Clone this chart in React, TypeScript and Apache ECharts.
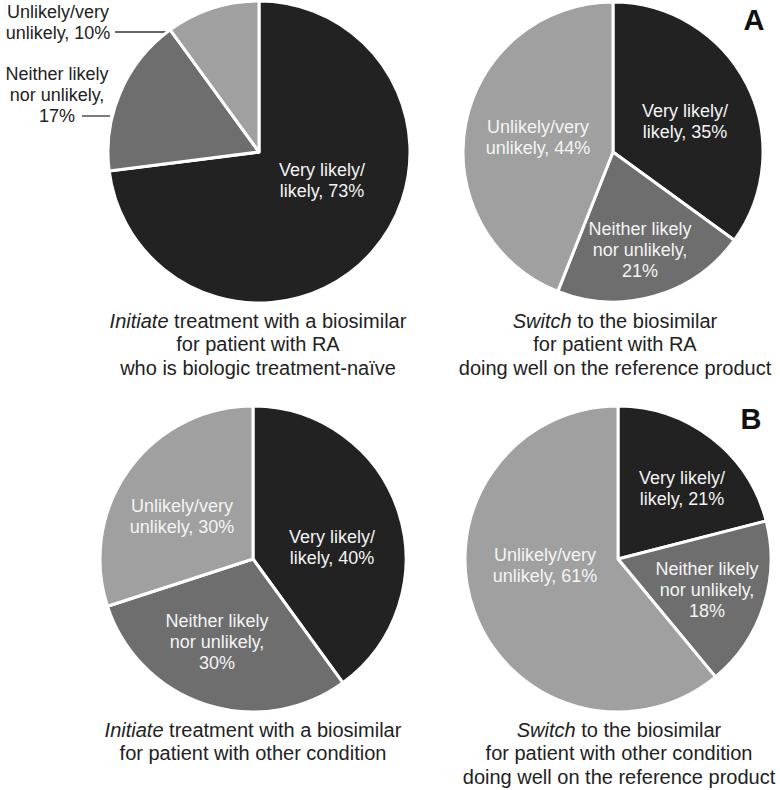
import React, { useEffect, useRef } from "react";
import * as echarts from "echarts";

const categories = ["Very likely/likely", "Neither likely nor unlikely", "Unlikely/very unlikely"];
const labelPrefixes = ["Very likely/\nlikely, ", "Neither likely\nnor unlikely,\n", "Unlikely/very\nunlikely, "];
const initiateRA = [73, 17, 10];
const switchRA = [35, 21, 44];
const initiateOther = [40, 30, 30];
const switchOther = [21, 18, 61];
const panelLetters = ["A", "B"];
const captionsTL = ["treatment with a biosimilar", "for patient with RA", "who is biologic treatment-naïve"];
const captionsTR = ["to the biosimilar", "for patient with RA", "doing well on the reference product"];
const captionsBL = ["treatment with a biosimilar", "for patient with other condition"];
const captionsBR = ["to the biosimilar", "for patient with other condition", "doing well on the reference product"];
const italicWords = ["Initiate", "Switch", "Initiate", "Switch"];

const COLORS = ["#222222", "#6e6e6e", "#a0a0a0"];
const FONT = "'Liberation Sans', Arial, Helvetica, sans-serif";

export default function App() {
  const ref = useRef<HTMLDivElement>(null);
  useEffect(() => {
    if (!ref.current) return;
    const chart = echarts.init(ref.current, undefined, { renderer: "svg" });
    const pies = [
      { values: initiateRA, center: [259, 152], r: 151 },
      { values: switchRA, center: [613, 152], r: 150 },
      { values: initiateOther, center: [253, 559], r: 153 },
      { values: switchOther, center: [618, 559], r: 153 },
    ];
    const labelPos = [
      [[322, 180], [57, 95], [58, 22]],
      [[685, 121], [640, 250], [538, 137]],
      [[332, 547], [217, 642], [182, 516]],
      [[682, 488], [707, 590], [545, 565]],
    ];
    const series = pies.map((p, si) => ({
      type: "pie",
      center: p.center,
      radius: [0, p.r],
      startAngle: 90,
      clockwise: true,
      silent: true,
      data: categories.map((c, i) => ({
        name: c,
        value: p.values[i],
        itemStyle: { color: COLORS[i] },
        label: si === 0 && i > 0 ? { color: "#222222" } : {},
      })),
      itemStyle: { borderColor: "#ffffff", borderWidth: 3 },
      label: {
        show: true,
        position: "inside",
        color: "#f4f4f4",
        fontFamily: FONT,
        fontSize: 18,
        lineHeight: 21,
        align: "center",
        formatter: (params: any) => labelPrefixes[params.dataIndex] + params.value + "%",
      },
      labelLine: { show: false },
      labelLayout: (params: any) => {
        const pos = labelPos[params.seriesIndex][params.dataIndex];
        return { x: pos[0], y: pos[1], align: "center", verticalAlign: "middle" };
      },
      emphasis: { disabled: true },
    }));

    const captionBlocks = [
      { lines: captionsTL, x: 258, y0: 321 },
      { lines: captionsTR, x: 615, y0: 321 },
      { lines: captionsBL, x: 253, y0: 730 },
      { lines: captionsBR, x: 619, y0: 730 },
    ];
    const graphics: any[] = [];
    captionBlocks.forEach((b, bi) => {
      b.lines.forEach((line, li) => {
        graphics.push({
          type: "text",
          x: b.x,
          y: b.y0 + li * 23.3,
          style: {
            text: li === 0 ? "{i|" + italicWords[bi] + "} " + line : line,
            rich: { i: { fontStyle: "italic", fontSize: 20, fontFamily: FONT, fill: "#222222" } },
            fontSize: 20,
            fontFamily: FONT,
            fill: "#222222",
            textAlign: "center",
            textVerticalAlign: "middle",
          },
        });
      });
    });
    graphics.push(
      { type: "text", x: 754, y: 20, style: { text: panelLetters[0], fontSize: 29, fontWeight: "bold", fontFamily: FONT, fill: "#111111", textAlign: "center", textVerticalAlign: "middle" } },
      { type: "text", x: 751, y: 419, style: { text: panelLetters[1], fontSize: 29, fontWeight: "bold", fontFamily: FONT, fill: "#111111", textAlign: "center", textVerticalAlign: "middle" } },
      { type: "line", shape: { x1: 115, y1: 32, x2: 168, y2: 32 }, style: { stroke: "#333333", lineWidth: 1.3 } },
      { type: "line", shape: { x1: 82, y1: 116, x2: 110, y2: 116 }, style: { stroke: "#333333", lineWidth: 1.3 } }
    );

    chart.setOption({
      animation: false,
      backgroundColor: "#ffffff",
      series,
      graphic: graphics,
    });
    return () => chart.dispose();
  }, []);
  return <div ref={ref} style={{ position: "absolute", left: 0, top: 0, width: 780, height: 790 }} />;
}
